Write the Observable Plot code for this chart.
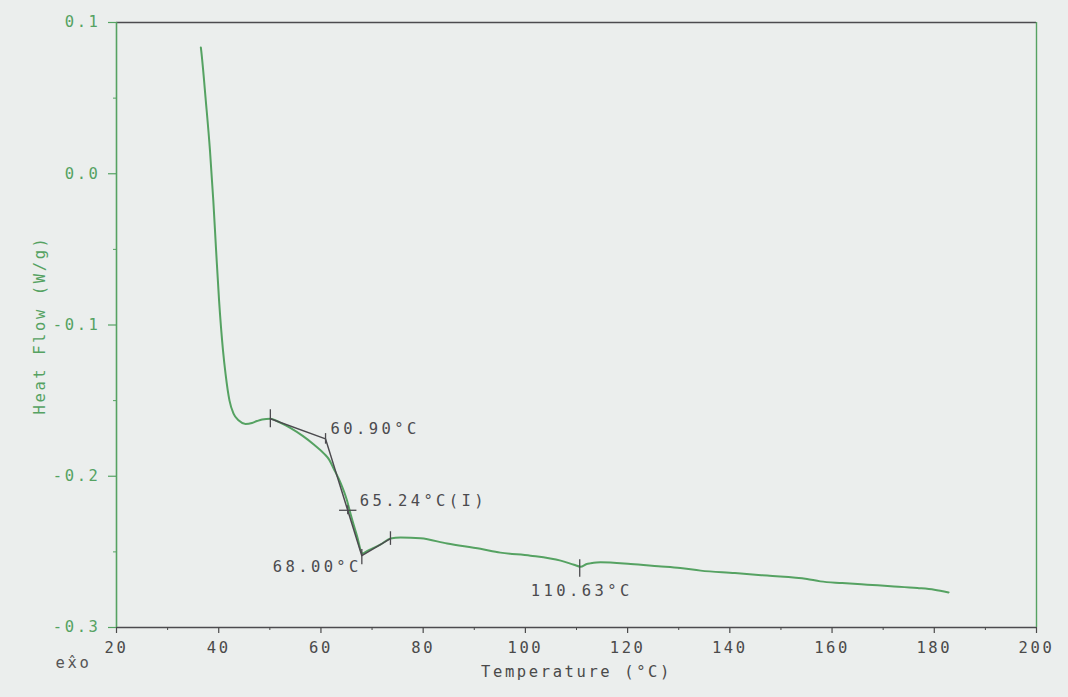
<!DOCTYPE html>
<html>
<head>
<meta charset="utf-8">
<script src="https://cdn.jsdelivr.net/npm/d3@7"></script>
<script src="https://cdn.jsdelivr.net/npm/@observablehq/plot@0.6"></script>
<style>
  html, body { margin: 0; padding: 0; background: #ebeeed; }
  #chart svg text { letter-spacing: 2.6px; }
  #chart svg g.annot text { letter-spacing: 3.4px; }
</style>
</head>
<body>
<div id="chart"></div>
<script>
// DSC heating scan: temperature (°C) and heat flow (W/g)
const temperature = [36.5, 36.57, 37.47, 38.29, 38.94, 39.49, 40.07, 40.84, 41.33, 42.11, 42.9, 43.93, 45.24, 46.5, 47.5, 48.5, 50.1, 52.0, 54.0, 56.5, 58.6, 60.6, 61.6, 62.5, 63.8, 65.1, 65.8, 67.1, 68.1, 69.0, 71.7, 73.6, 75.6, 79.5, 84.7, 91.2, 95.1, 101.0, 106.9, 109.5, 110.8, 112.0, 112.7, 114.7, 120.6, 126.0, 130.3, 134.3, 141.0, 147.3, 155.1, 157.7, 162.0, 166.9, 171.5, 176.7, 180.0, 182.8];
const heatFlow = [0.0835, 0.0815, 0.0484, 0.0153, -0.0177, -0.0508, -0.0839, -0.1169, -0.1321, -0.150, -0.1586, -0.1632, -0.1654, -0.1648, -0.1635, -0.1625, -0.162, -0.1645, -0.168, -0.1735, -0.179, -0.185, -0.189, -0.195, -0.204, -0.216, -0.225, -0.240, -0.251, -0.2495, -0.245, -0.2412, -0.2405, -0.241, -0.2445, -0.248, -0.2505, -0.2525, -0.2558, -0.2585, -0.2598, -0.258, -0.2576, -0.2569, -0.258, -0.2595, -0.2607, -0.2624, -0.264, -0.2657, -0.2679, -0.2695, -0.2706, -0.2717, -0.2727, -0.2739, -0.275, -0.2768];

// Glass-transition construction: baseline start, onset, inflection, end, baseline end
const tangentT = [50.1, 60.90, 65.24, 68.00, 73.6];
const tangentHF = [-0.162, -0.1753, -0.2225, -0.2525, -0.2412];
// Second event marker
const eventT = [110.63];
const eventHF = [-0.2598];

// Axis ticks
const xMajor = [20, 40, 60, 80, 100, 120, 140, 160, 180, 200];
const xMinor = [30, 50, 70, 90, 110, 130, 150, 170, 190];
const yMajor = [0.1, 0.0, -0.1, -0.2, -0.3];
const yMinor = [0.05, -0.05, -0.15, -0.25];

const green = "#55a262";
const ink = "#4c4b4f";

const curve = temperature.map((t, i) => ({t, hf: heatFlow[i]}));
const tangent = tangentT.map((t, i) => ({t, hf: tangentHF[i]}));
const onset = tangent[1], inflection = tangent[2], endset = tangent[3];
const events = eventT.map((t, i) => ({t, hf: eventHF[i]}));

// Short vertical markers on the construction (half-height in W/g)
const markers = [
  {t: tangent[0].t, hf: tangent[0].hf, h: 0.006},
  {t: onset.t, hf: onset.hf, h: 0.0035},
  {t: inflection.t, hf: inflection.hf, h: 0.003},
  {t: endset.t, hf: endset.hf - 0.001, h: 0.005},
  {t: tangent[4].t, hf: tangent[4].hf, h: 0.0045},
  ...events.map(d => ({t: d.t, hf: d.hf - 0.0012, h: 0.0058}))
];

const fmtT = v => v.toFixed(2) + "°C";

const chart = Plot.plot({
  width: 1068,
  height: 697,
  marginLeft: 116,
  marginRight: 32,
  marginTop: 22,
  marginBottom: 70,
  x: {domain: [20, 200]},
  y: {domain: [-0.3, 0.1]},
  style: {background: "transparent", fontFamily: "'DejaVu Sans Mono', monospace", fontSize: "15.5px", overflow: "visible"},
  marks: [
    // frame
    Plot.ruleY([0.1], {stroke: ink, strokeWidth: 1.5}),
    Plot.ruleY([-0.3], {stroke: ink, strokeWidth: 1.3}),
    Plot.ruleX([20], {stroke: green, strokeWidth: 1.6}),
    Plot.ruleX([200], {stroke: green, strokeWidth: 1.4}),
    // axes
    Plot.axisX({ticks: xMajor, tickSize: 6, tickPadding: 8, tickFormat: d => String(d), color: "#4a4a4a", label: null, strokeWidth: 1.2}),
    Plot.axisX({ticks: xMinor, tickSize: 3, tickFormat: () => "", color: "#4a4a4a", label: null}),
    Plot.axisY({ticks: yMajor, tickSize: 8, tickPadding: 8, tickFormat: d => d.toFixed(1), color: green, label: null, strokeWidth: 1.2}),
    Plot.axisY({ticks: yMinor, tickSize: 3, tickFormat: () => "", color: green, label: null}),
    Plot.text(["Heat Flow (W/g)"], {frameAnchor: "left", dx: -76, rotate: -90, textAnchor: "middle", lineAnchor: "middle", fill: green}),
    Plot.text(["Temperature (°C)"], {frameAnchor: "bottom", dy: 45, textAnchor: "middle", lineAnchor: "middle", fill: "#4a4a4a"}),
    // exotherm direction marker: "exo" with a caret over the x
    Plot.text(["ex\u0302o"], {frameAnchor: "bottom-left", dx: -43, dy: 36, textAnchor: "middle", lineAnchor: "middle", fill: "#555"}),
    // measured curve
    Plot.line(curve, {x: "t", y: "hf", stroke: green, strokeWidth: 2, curve: "monotone-x"}),
    // tangent construction
    Plot.line(tangent, {x: "t", y: "hf", stroke: ink, strokeWidth: 1.5}),
    Plot.ruleX(markers, {x: "t", y1: d => d.hf + d.h, y2: d => d.hf - d.h, stroke: ink, strokeWidth: 1.3}),
    Plot.ruleY([inflection], {y: "hf", x1: d => d.t - 1.6, x2: d => d.t + 1.8, stroke: ink, strokeWidth: 1.3}),
    // value labels
    Plot.text([onset], {x: "t", y: "hf", text: d => fmtT(d.t), textAnchor: "start", dx: 5, dy: -10, fill: ink, className: "annot"}),
    Plot.text([inflection], {x: "t", y: "hf", text: d => fmtT(d.t) + "(I)", textAnchor: "start", dx: 12, dy: -9, fill: ink, className: "annot"}),
    Plot.text([endset], {x: "t", y: "hf", text: d => fmtT(d.t), textAnchor: "end", dx: 0, dy: 11, fill: ink, className: "annot"}),
    Plot.text(events, {x: "t", y: "hf", text: d => fmtT(d.t), dx: 2, dy: 24, fill: ink, className: "annot"})
  ]
});

document.getElementById("chart").appendChild(chart);
</script>
</body>
</html>
